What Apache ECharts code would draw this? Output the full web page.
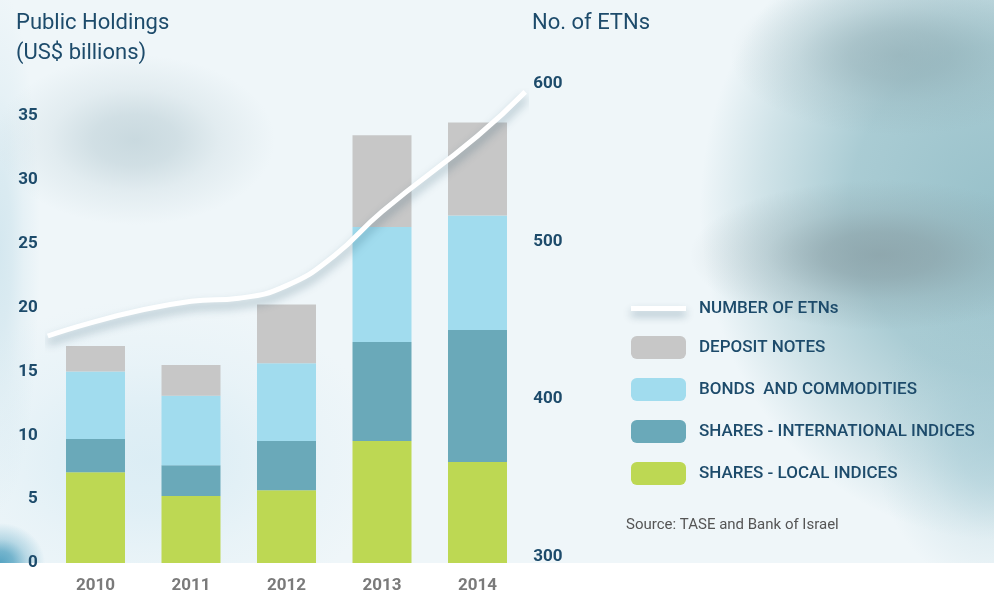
<!DOCTYPE html>
<html>
<head>
<meta charset="utf-8">
<script src="https://cdn.jsdelivr.net/npm/echarts@6/dist/echarts.min.js"></script>
<style>
  html, body { margin: 0; padding: 0; background: #ffffff; }
  #chart { width: 994px; height: 596px; }
</style>
</head>
<body>
<div id="chart"></div>
<script>
// categories
var years = ['2010', '2011', '2012', '2013', '2014']

// public holdings, US$ billions (stacked from the bottom up)
var localIndices = [7.1, 5.25, 5.7, 9.55, 7.9]
var intlIndices = [2.6, 2.4, 3.85, 7.75, 10.35]
var bondsCommodities = [5.3, 5.45, 6.1, 9.0, 8.95]
var depositNotes = [2.0, 2.4, 4.6, 7.2, 7.3]

// number of ETNs (x = year position)
var etnYears = [2009.5, 2011, 2011.5, 2012, 2012.5, 2013, 2014, 2014.5]
var etnCount = [440, 462, 464, 472, 491, 519, 567, 595]

var leftTicks = { min: 0, max: 35, interval: 5 }
var rightTicks = { min: 300, max: 600, interval: 100 }

var navy = '#1d4b6b'

// soft background blob (radial gradient square, stretched)
function blob(cx, cy, rx, ry, rgb, a, flat) {
  function c(k) { return 'rgba(' + rgb + ',' + (a * k).toFixed(3) + ')' }
  var stops = flat
    ? [[0, 1], [0.5, 0.8], [0.8, 0.35], [1, 0]]
    : [[0, 1], [0.3, 0.8], [0.6, 0.35], [1, 0]]
  return {
    type: 'rect',
    silent: true,
    x: cx,
    y: cy,
    scaleX: rx / 100,
    scaleY: ry / 100,
    shape: { x: -100, y: -100, width: 200, height: 200 },
    style: {
      fill: {
        type: 'radial', x: 0.5, y: 0.5, r: 0.5,
        colorStops: stops.map(function (s) { return { offset: s[0], color: c(s[1]) } })
      }
    }
  }
}

var chart = echarts.init(document.getElementById('chart'))

chart.setOption({
  animation: false,
  backgroundColor: '#ffffff',
  graphic: {
    elements: [
      {
        type: 'group',
        silent: true,
        children: [
          { type: 'rect', shape: { x: 0, y: 0, width: 994, height: 563 }, style: { fill: '#eff6f9' } },
          blob(150, 460, 240, 160, '200,228,240', 0.5),
          blob(0, 563, 45, 40, '60,150,185', 0.85),
          blob(0, 250, 40, 260, '195,222,233', 0.6),
          blob(135, 140, 140, 85, '185,205,212', 0.7),
          blob(1000, 210, 300, 330, '152,193,202', 1, true),
          blob(994, 440, 120, 150, '160,200,211', 0.6),
          blob(900, 55, 170, 80, '140,168,175', 0.6),
          blob(880, 255, 190, 75, '135,156,162', 0.75),
          { type: 'rect', shape: { x: 0, y: 563, width: 994, height: 33 }, style: { fill: '#ffffff' } }
        ]
      },
      {
        type: 'text',
        left: 626,
        top: 518,
        style: {
          text: 'Source: TASE and Bank of Israel',
          fill: '#555555',
          font: '15px Roboto'
        }
      }
    ]
  },
  title: [
    {
      text: 'Public Holdings\n(US$ billions)',
      left: 11,
      top: 3,
      textStyle: { color: navy, fontFamily: 'Roboto', fontWeight: 'normal', fontSize: 22, lineHeight: 30 }
    },
    {
      text: 'No. of ETNs',
      left: 527,
      top: 3,
      textStyle: { color: navy, fontFamily: 'Roboto', fontWeight: 'normal', fontSize: 22, lineHeight: 30 }
    }
  ],
  legend: {
    orient: 'vertical',
    left: 626,
    top: 295,
    itemWidth: 55,
    itemHeight: 23,
    itemGap: 19,
    textStyle: {
      color: navy,
      fontFamily: 'Roboto',
      fontWeight: 500,
      fontSize: 17,
      padding: [0, 0, 0, 8]
    },
    data: [
      {
        name: 'NUMBER OF ETNs',
        icon: 'path://M0,0 L55,0 L55,5 L0,5 Z',
        itemStyle: {
          color: '#ffffff',
          shadowColor: 'rgba(20,70,95,0.35)',
          shadowBlur: 8,
          shadowOffsetY: 5
        }
      },
      'DEPOSIT NOTES',
      'BONDS  AND COMMODITIES',
      'SHARES - INTERNATIONAL INDICES',
      'SHARES - LOCAL INDICES'
    ]
  },
  grid: [
    { left: 47.75, right: 468.75, top: 116, bottom: 33 },
    { left: 47.75, right: 468.75, top: 84, bottom: 39.5 }
  ],
  xAxis: [
    {
      type: 'category',
      gridIndex: 0,
      data: years,
      axisLine: { show: false },
      axisTick: { show: false },
      axisLabel: { color: '#7a7a7a', fontFamily: 'Roboto', fontWeight: 'bold', fontSize: 17, margin: 14 }
    },
    {
      type: 'value',
      gridIndex: 1,
      min: 2009.5,
      max: 2014.5,
      show: false
    }
  ],
  yAxis: [
    {
      type: 'value',
      gridIndex: 0,
      min: leftTicks.min,
      max: leftTicks.max,
      interval: leftTicks.interval,
      splitLine: { show: false },
      axisLine: { show: false },
      axisTick: { show: false },
      axisLabel: { color: navy, fontFamily: 'Roboto', fontWeight: 'bold', fontSize: 17, margin: 10 }
    },
    {
      type: 'value',
      gridIndex: 1,
      position: 'right',
      min: rightTicks.min,
      max: rightTicks.max,
      interval: rightTicks.interval,
      splitLine: { show: false },
      axisLine: { show: false },
      axisTick: { show: false },
      axisLabel: { color: navy, fontFamily: 'Roboto', fontWeight: 'bold', fontSize: 17, margin: 8 }
    }
  ],
  series: [
    {
      name: 'SHARES - LOCAL INDICES',
      type: 'bar',
      stack: 'holdings',
      barWidth: 59,
      itemStyle: { color: '#bdd853' },
      data: localIndices
    },
    {
      name: 'SHARES - INTERNATIONAL INDICES',
      type: 'bar',
      stack: 'holdings',
      itemStyle: { color: '#6aa9b9' },
      data: intlIndices
    },
    {
      name: 'BONDS  AND COMMODITIES',
      type: 'bar',
      stack: 'holdings',
      itemStyle: { color: '#a1dcee' },
      data: bondsCommodities
    },
    {
      name: 'DEPOSIT NOTES',
      type: 'bar',
      stack: 'holdings',
      itemStyle: { color: '#c7c7c7' },
      data: depositNotes
    },
    {
      name: 'NUMBER OF ETNs',
      type: 'line',
      xAxisIndex: 1,
      yAxisIndex: 1,
      smooth: 0.5,
      symbol: 'none',
      z: 5,
      itemStyle: { color: '#ffffff' },
      lineStyle: {
        color: '#ffffff',
        width: 5,
        shadowColor: 'rgba(20,70,95,0.35)',
        shadowBlur: 10,
        shadowOffsetY: 6
      },
      data: etnYears.map(function (y, i) { return [y, etnCount[i]] })
    }
  ]
})
</script>
</body>
</html>
